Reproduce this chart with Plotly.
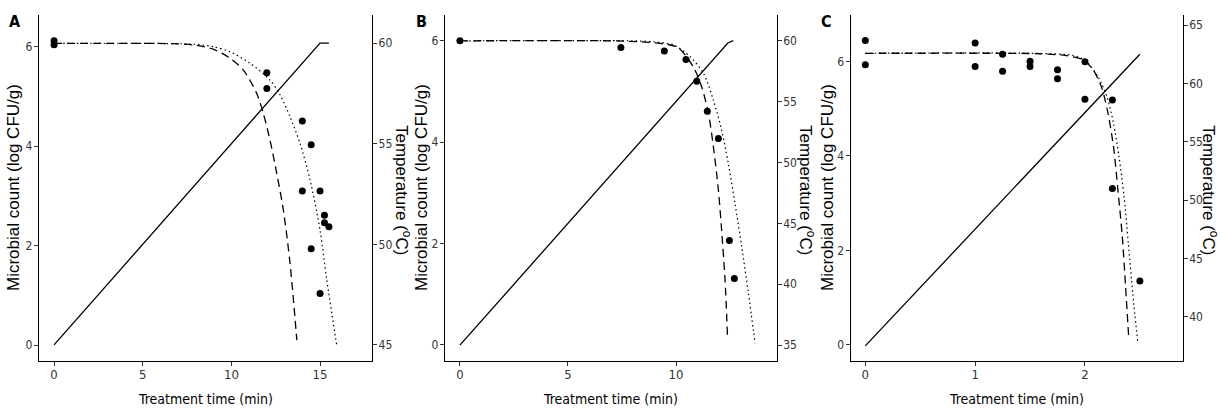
import plotly.graph_objects as go

# ---------------- Panel A ----------------
a_time = [0, 0, 12, 12, 14, 14.5, 14, 15, 15.25, 15.25, 15.5, 14.5, 15]
a_count = [6.12, 6.04, 5.48, 5.16, 4.51, 4.03, 3.10, 3.10, 2.61, 2.46, 2.38, 1.94, 1.04]
a_dash_t = [0, 4, 7, 8, 9, 9.93, 10.68, 11.43, 11.80, 12.18, 12.56, 12.93, 13.31, 13.69]
a_dash_n = [6.07, 6.07, 6.06, 6.03, 5.95, 5.77, 5.53, 5.06, 4.66, 4.12, 3.45, 2.72, 1.64, 0.10]
a_dot_t = [0, 5, 8, 9, 9.93, 11.05, 12.18, 12.75, 13.31, 13.87, 14.44, 15.0, 15.38, 15.94]
a_dot_n = [6.07, 6.07, 6.05, 6.0, 5.90, 5.67, 5.33, 5.03, 4.59, 4.06, 3.32, 2.31, 1.31, 0.0]
a_temp_t = [0, 15, 15.5]
a_temp = [45, 60, 60]

# ---------------- Panel B ----------------
b_time = [0, 7.45, 9.46, 10.46, 10.96, 11.45, 11.96, 12.47, 12.7]
b_count = [6.0, 5.87, 5.80, 5.63, 5.20, 4.61, 4.07, 2.06, 1.31]
b_dash_t = [0, 7, 8.33, 9.26, 10.03, 10.49, 10.88, 11.19, 11.5, 11.73, 11.96, 12.11, 12.27, 12.38]
b_dash_n = [6.0, 6.0, 5.98, 5.95, 5.88, 5.69, 5.42, 5.09, 4.57, 3.91, 3.06, 2.27, 1.28, 0.2]
b_dot_t = [0, 8, 9.0, 9.88, 10.65, 11.27, 11.73, 12.11, 12.42, 12.73, 13.04, 13.35, 13.66]
b_dot_n = [6.0, 6.0, 5.98, 5.92, 5.69, 5.36, 4.83, 4.24, 3.58, 2.79, 1.94, 1.02, 0.03]
b_temp_t = [0, 12.4, 12.65]
b_temp = [35, 59.8, 60]

# ---------------- Panel C ----------------
c_time = [0, 0, 1, 1, 1.25, 1.25, 1.5, 1.5, 1.75, 1.75, 2.0, 2.0, 2.25, 2.25, 2.5]
c_count = [6.44, 5.93, 6.39, 5.89, 6.15, 5.79, 6.0, 5.89, 5.82, 5.63, 5.99, 5.20, 5.18, 3.31, 1.35]
c_dash_t = [0, 1.2, 1.59, 1.83, 1.985, 2.077, 2.15, 2.21, 2.26, 2.30, 2.34, 2.37, 2.40]
c_dash_n = [6.17, 6.17, 6.16, 6.12, 6.03, 5.81, 5.46, 4.90, 4.19, 3.28, 2.29, 1.23, 0.1]
c_dot_t = [0, 1.5, 1.9, 2.016, 2.12, 2.20, 2.26, 2.31, 2.356, 2.395, 2.435, 2.48]
c_dot_n = [6.17, 6.17, 6.12, 5.99, 5.67, 5.25, 4.69, 3.98, 3.14, 2.15, 1.09, 0.07]
c_temp_t = [0, 2.5]
c_temp = [37.5, 62.5]

panel_labels = ["A", "B", "C"]
x_title = "Treatment time (min)"
y_title = "Microbial count (log CFU/g)"
y2_title = "Temperature (<sup>o</sup>C)"

W, H = 1221, 412
NARROW = "DejaVu Sans Condensed, Liberation Sans Narrow, sans-serif"
SANS = "Liberation Sans, Arial, sans-serif"

panels = [
    dict(time=a_time, count=a_count, dt=a_dash_t, dn=a_dash_n, pt=a_dot_t, pn=a_dot_n,
         tt=a_temp_t, tv=a_temp, px=(39, 372), xr=[-0.85, 17.93], yr=[-0.32, 6.64],
         y2r=[44.2, 61.4], xt=[0, 5, 10, 15], yt=[0, 2, 4, 6], y2t=[45, 50, 55, 60],
         ytl=13, y2tl=403, lab=(15, 22)),
    dict(time=b_time, count=b_count, dt=b_dash_t, dn=b_dash_n, pt=b_dot_t, pn=b_dot_n,
         tt=b_temp_t, tv=b_temp, px=(445, 776.7), xr=[-0.69, 14.66], yr=[-0.32, 6.51],
         y2r=[33.7, 62.1], xt=[0, 5, 10], yt=[0, 2, 4, 6], y2t=[35, 40, 45, 50, 55, 60],
         ytl=421, y2tl=807, lab=(421, 22)),
    dict(time=c_time, count=c_count, dt=c_dash_t, dn=c_dash_n, pt=c_dot_t, pn=c_dot_n,
         tt=c_temp_t, tv=c_temp, px=(850.7, 1182.7), xr=[-0.133, 2.89], yr=[-0.34, 6.98],
         y2r=[36.2, 65.86], xt=[0, 1, 2], yt=[0, 2, 4, 6], y2t=[40, 45, 50, 55, 60, 65],
         ytl=827, y2tl=1210, lab=(826, 22)),
]

top_px, bot_px = 15, 361
ydom = [1 - bot_px / H, 1 - top_px / H]

fig = go.Figure()
layout = dict(
    width=W, height=H, margin=dict(l=0, r=0, t=0, b=0),
    paper_bgcolor="white", plot_bgcolor="white", showlegend=False,
    annotations=[],
)

axis_common = dict(showline=True, linecolor="black", linewidth=1.3, ticks="outside",
                   ticklen=4, tickwidth=1.1, tickcolor="#333333", showgrid=False,
                   zeroline=False, tickfont=dict(family=NARROW, size=13, color="#333333"))
yfont = dict(family=NARROW, size=12, color="#333333")

for i, p in enumerate(panels):
    xi = i + 1
    yl = 2 * i + 1
    yr = 2 * i + 2
    xname = "x" if xi == 1 else f"x{xi}"
    ylname = "y" if yl == 1 else f"y{yl}"
    yrname = f"y{yr}"

    # temperature line (right axis)
    fig.add_trace(go.Scatter(x=p["tt"], y=p["tv"], mode="lines",
                             line=dict(color="black", width=1.3),
                             xaxis=xname, yaxis=yrname, hoverinfo="skip"))
    # model fits
    fig.add_trace(go.Scatter(x=p["dt"], y=p["dn"], mode="lines",
                             line=dict(color="black", width=1.3, dash="8px,5px", shape="spline", smoothing=0.8),
                             xaxis=xname, yaxis=ylname))
    fig.add_trace(go.Scatter(x=p["pt"], y=p["pn"], mode="lines",
                             line=dict(color="black", width=1.2, dash="1.5px,3px", shape="spline", smoothing=0.8),
                             xaxis=xname, yaxis=ylname))
    # observations
    fig.add_trace(go.Scatter(x=p["time"], y=p["count"], mode="markers",
                             marker=dict(color="black", size=7),
                             xaxis=xname, yaxis=ylname))

    xdom = [p["px"][0] / W, p["px"][1] / W]
    layout["xaxis" if xi == 1 else f"xaxis{xi}"] = dict(
        axis_common, domain=xdom, range=p["xr"], tickvals=p["xt"], anchor=ylname,
        ticklabelstandoff=-3)
    layout["yaxis" if yl == 1 else f"yaxis{yl}"] = dict(
        axis_common, domain=ydom, range=p["yr"], tickvals=p["yt"], anchor=xname,
        tickfont=yfont, ticklabelstandoff=-1)
    layout[f"yaxis{yr}"] = dict(
        axis_common, domain=ydom, range=p["y2r"], tickvals=p["y2t"], anchor=xname,
        overlaying=ylname, side="right", tickfont=yfont, ticklabelstandoff=-1)

    cx = (p["px"][0] + p["px"][1]) / 2
    layout["annotations"] += [
        dict(text=x_title, x=cx / W, y=1 - 399 / H, xref="paper", yref="paper",
             showarrow=False, xanchor="center", yanchor="middle",
             font=dict(family=NARROW, size=14, color="black")),
        dict(text=y_title, x=p["ytl"] / W, y=1 - 188 / H, xref="paper", yref="paper",
             showarrow=False, xanchor="center", yanchor="middle", textangle=-90,
             font=dict(family=SANS, size=17, color="black")),
        dict(text=y2_title, x=p["y2tl"] / W, y=1 - 190 / H, xref="paper", yref="paper",
             showarrow=False, xanchor="center", yanchor="middle", textangle=90,
             font=dict(family=SANS, size=17, color="black")),
        dict(text="<b>" + panel_labels[i] + "</b>", x=p["lab"][0] / W, y=1 - p["lab"][1] / H,
             xref="paper", yref="paper", showarrow=False, xanchor="center", yanchor="middle",
             font=dict(family=NARROW, size=16, color="black")),
    ]

fig.update_layout(**layout)
fig.write_html("out.html")
